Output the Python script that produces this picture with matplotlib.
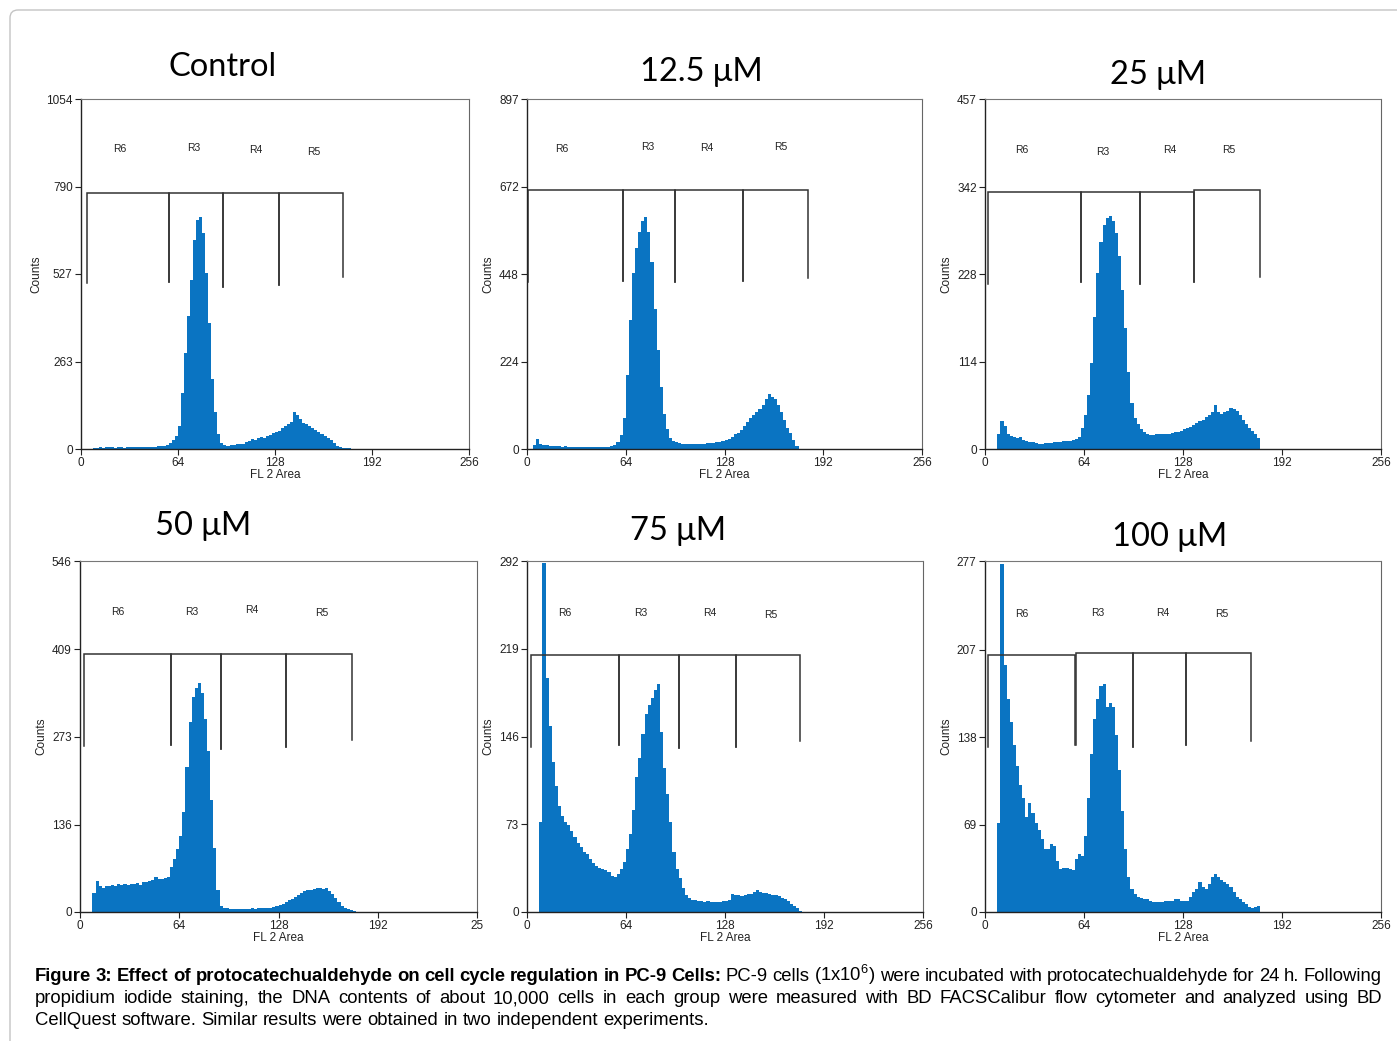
import numpy as np
import matplotlib
matplotlib.use('Agg')
import matplotlib.pyplot as plt
from matplotlib.transforms import IdentityTransform
from matplotlib.patches import FancyBboxPatch

# ---- data (counts in 2-channel bins) ----
titles = ['Control', '12.5 \u03bcM', '25 \u03bcM', '50 \u03bcM', '75 \u03bcM', '100 \u03bcM']
start_ch = [8, 4, 8, 8, 8, 8]
bin_w = 2

counts_ctrl = [2, 4, 5, 4, 5, 5, 6, 4, 5, 6, 4, 5, 5, 6, 5, 6, 5, 6, 7, 6, 7, 8, 8, 10,
               12, 18, 28, 40, 70, 170, 290, 400, 510, 630, 690, 700, 650, 530, 380, 210, 110, 45, 18, 12,
               9, 12, 12, 14, 15, 16, 20, 24, 30, 26, 32, 35, 34, 38, 42, 48, 52, 55, 62, 70, 74, 80,
               110, 102, 90, 78, 74, 68, 62, 58, 52, 45, 40, 34, 28, 18, 10, 6, 4, 4, 3]
counts_125 = [10, 25, 14, 10, 9, 8, 8, 7, 7, 6, 7, 6, 5, 5, 5, 5, 4, 5, 4, 4, 5, 4, 5, 5, 6, 7, 9,
              18, 35, 80, 190, 330, 450, 515, 555, 585, 595, 555, 480, 360, 255, 160, 90, 50, 28, 20,
              18, 16, 14, 12, 12, 13, 12, 13, 14, 14, 15, 15, 16, 18, 18, 20, 22, 26, 32, 38,
              42, 48, 58, 70, 80, 86, 95, 102, 112, 128, 140, 132, 128, 112, 95, 75, 55, 40, 24, 8]
counts_25 = [20, 36, 30, 20, 17, 16, 15, 16, 12, 11, 9, 9, 8, 7, 7, 8, 8, 8, 9, 9, 9, 10, 10, 11, 12, 13, 16,
             28, 45, 70, 112, 172, 230, 270, 292, 302, 304, 298, 282, 252, 208, 158, 100, 60, 40, 32, 26, 22,
             19, 18, 18, 19, 20, 20, 20, 20, 21, 22, 22, 24, 26, 27, 29, 31, 34, 36, 38, 42,
             44, 48, 58, 48, 46, 48, 50, 54, 52, 50, 44, 38, 32, 28, 24, 20, 15]
counts_50 = [30, 48, 40, 38, 40, 40, 42, 40, 44, 42, 43, 42, 44, 43, 45, 42, 46, 46, 48, 50, 54, 52, 52, 53, 55,
             70, 82, 98, 118, 155, 225, 295, 335, 348, 356, 340, 300, 250, 175, 100, 35, 10,
             7, 6, 5, 5, 5, 4, 5, 5, 4, 6, 5, 6, 6, 6, 7, 7, 8, 10, 11, 13, 15, 18, 21, 24, 27,
             30, 33, 34, 35, 36, 37, 37, 36, 37, 33, 28, 22, 15, 10, 6, 4, 3, 2]
counts_75 = [75, 290, 195, 155, 125, 105, 88, 80, 75, 72, 67, 62, 57, 54, 50, 48, 44, 41, 38, 37, 36, 35, 33, 30, 29,
             32, 36, 42, 52, 65, 85, 112, 128, 148, 165, 172, 178, 185, 190, 150, 120, 98, 75, 50, 36, 28, 20, 14,
             12, 10, 10, 9, 9, 8, 9, 8, 8, 8, 8, 9, 9, 10, 15, 14, 14, 13, 14, 15, 15, 17, 18, 17,
             16, 16, 15, 14, 14, 13, 12, 11, 9, 7, 5, 3, 1]
counts_100 = [70, 275, 195, 168, 150, 132, 115, 100, 90, 75, 86, 78, 70, 65, 58, 50, 50, 54, 52, 40, 34, 35, 35, 34, 33,
              42, 46, 44, 60, 90, 125, 152, 168, 178, 180, 162, 165, 162, 140, 112, 80, 50, 28, 18, 14,
              12, 11, 10, 10, 9, 8, 8, 8, 8, 9, 9, 9, 10, 10, 9, 9, 9, 12, 16, 18, 24, 20, 18, 22,
              28, 30, 28, 25, 24, 22, 20, 16, 12, 10, 8, 6, 4, 3, 4, 5]
all_counts = [counts_ctrl, counts_125, counts_25, counts_50, counts_75, counts_100]

y_ticklabels = [['0', '263', '527', '790', '1054'],
                ['0', '224', '448', '672', '897'],
                ['0', '114', '228', '342', '457'],
                ['0', '136', '273', '409', '546'],
                ['0', '73', '146', '219', '292'],
                ['0', '69', '138', '207', '277']]
x_ticks = [0, 64, 128, 192, 256]
x_ticklabels = [['0', '64', '128', '192', '256']] * 3 + [['0', '64', '128', '192', '25'],
                                                        ['0', '64', '128', '192', '256'],
                                                        ['0', '64', '128', '192', '256']]

# gate markers: R6, R3, R4, R5 as (left, right, level); drop = bottom of the vertical bars
region_names = ['R6', 'R3', 'R4', 'R5']
gates = [
    [(4, 58, 772), (58, 93.6, 772), (93.6, 130.8, 772), (130.8, 173, 772)],
    [(0.6, 62, 663), (62, 95.9, 663), (95.9, 139.9, 663), (139.9, 182.1, 663)],
    [(2.2, 62.2, 335), (62.2, 100.3, 335), (100.3, 135.2, 335), (135.2, 177.6, 338)],
    [(2.8, 58.4, 401), (58.4, 90.7, 401), (90.7, 132.8, 401), (132.8, 175.4, 401)],
    [(2.6, 59.5, 214), (59.5, 98.1, 214), (98.1, 135.2, 214), (135.2, 176.6, 214)],
    [(2.2, 58.4, 202.7), (59.0, 95.4, 204.3), (95.4, 130.2, 204.3), (130.2, 172.2, 204.3)],
]
gate_drops = [[499, 504, 489, 494, 517],
              [429, 431, 429, 431, 437],
              [216, 218, 216, 218, 224],
              [258, 260, 254, 257, 267],
              [137.6, 139, 136.5, 137.6, 142.5],
              [130.5, 131.8, 130.5, 131.8, 135]]
label_pos = [[(25.3, 903), (74.5, 906), (115, 901), (153.6, 894)],
             [(22.8, 769), (78.4, 774), (116.8, 771), (164.4, 774)],
             [(23.7, 390), (76.4, 388), (119.7, 390), (157.6, 390)],
             [(24.6, 467), (72, 467), (110.6, 470), (156, 465)],
             [(24.2, 249), (73.3, 249), (118.4, 249), (157.6, 247)],
             [(23.7, 235.5), (72.6, 236), (115, 236), (153.3, 235.5)]]

caption_bold = 'Figure 3: Effect of protocatechualdehyde on cell cycle regulation in PC-9 Cells:'
caption_l1 = 'PC-9 cells (1x10$^{6}$) were incubated with protocatechualdehyde for 24 h. Following'
caption_l2 = ('propidium iodide staining, the DNA contents of about 10,000 cells in each group were '
              'measured with BD FACSCalibur flow cytometer and analyzed using BD')
caption_l3 = 'CellQuest software. Similar results were obtained in two independent experiments.'

# ---- layout (pixels) ----
W, H, DPI = 1397, 1041, 100
BLUE = '#0a74c2'
plt.rcParams['font.family'] = ['Liberation Sans', 'DejaVu Sans']
plt.rcParams['mathtext.fontset'] = 'custom'
plt.rcParams['mathtext.rm'] = 'Liberation Sans'
plt.rcParams['mathtext.default'] = 'regular'

axes_px = [(81, 469, 99, 449), (527, 922, 99, 449), (985, 1381, 99, 449),
           (80, 477, 561, 912), (527, 923, 561, 912), (985, 1381, 561, 912)]
title_px = [(223, 76), (701, 81), (1158, 84), (203, 535), (678, 540), (1170, 546)]

fig = plt.figure(figsize=(W / DPI, H / DPI), dpi=DPI)
fig.patch.set_facecolor('white')

border = FancyBboxPatch((10, -30), 1420, H - 10 + 30, boxstyle='round,pad=0,rounding_size=8',
                        transform=IdentityTransform(), fc='none', ec='#c4c4c4', lw=1)
fig.add_artist(border)

for i in range(6):
    l, r, t, b = axes_px[i]
    ax = fig.add_axes([l / W, 1 - b / H, (r - l) / W, (b - t) / H])
    counts = all_counts[i]
    edges = start_ch[i] + bin_w * np.arange(len(counts) + 1)
    ax.stairs(counts, edges, fill=True, color=BLUE, lw=0)

    ymax = float(y_ticklabels[i][-1])
    ax.set_xlim(0, 256)
    ax.set_ylim(0, ymax)
    ax.set_xticks(x_ticks)
    ax.set_xticklabels(x_ticklabels[i])
    ax.set_yticks([float(v) for v in y_ticklabels[i]])
    ax.set_yticklabels(y_ticklabels[i])
    ax.tick_params(direction='out', length=4, width=0.8, colors='#222222', labelsize=8.5, pad=2)
    for s in ['left', 'bottom']:
        ax.spines[s].set_color('#222222')
        ax.spines[s].set_linewidth(1.0)
    ax.spines['right'].set_color('#666666')
    ax.spines['top'].set_color('#777777')
    ax.spines['top'].set_linestyle((0, (2, 1)))
    ax.set_xlabel('FL 2 Area', fontsize=8.5, labelpad=0, color='#222222')
    ax.set_ylabel('Counts', fontsize=8.5, labelpad=3, color='#222222')

    # gate brackets
    drops = gate_drops[i]
    for k, (x0, x1, lev) in enumerate(gates[i]):
        ax.plot([x0, x0, x1, x1], [drops[k], lev, lev, drops[k + 1]], color='#333333', lw=1.1,
                solid_joinstyle='miter')
    for name, (lx, ly) in zip(region_names, label_pos[i]):
        ax.text(lx, ly, name, fontsize=7.5, ha='center', va='center', color='#222222')

    tx, ty = title_px[i]
    fig.text(tx, H - ty, titles[i], transform=IdentityTransform(), fontsize=23.5,
             family=['Lato', 'DejaVu Sans'], ha='center', va='baseline', color='black')

# ---- caption, justified like the source ----
CAP_FS = 13.3
renderer = fig.canvas.get_renderer()


def caption_line(tokens, y, x0=35, x1=1382, justify=True):
    arts = []
    for word, wt in tokens:
        arts.append(fig.text(0, H - y, word, transform=IdentityTransform(), fontsize=CAP_FS,
                             fontweight=wt, va='baseline', color='black'))
    widths = [a.get_window_extent(renderer).width for a in arts]
    if justify:
        gap = (x1 - x0 - sum(widths)) / (len(arts) - 1)
    else:
        gap = CAP_FS * DPI / 72 * 0.278
    x = x0
    for a, w in zip(arts, widths):
        a.set_x(x)
        x += w + gap


tok1 = [(w, 'bold') for w in caption_bold.split(' ')] + [(w, 'normal') for w in caption_l1.split(' ')]
tok2 = [(w, 'normal') for w in caption_l2.split(' ')]
tok3 = [(w, 'normal') for w in caption_l3.split(' ')]
caption_line(tok1, 981)
caption_line(tok2, 1003)
caption_line(tok3, 1025, justify=False)

fig.savefig('out.png', dpi=DPI)
